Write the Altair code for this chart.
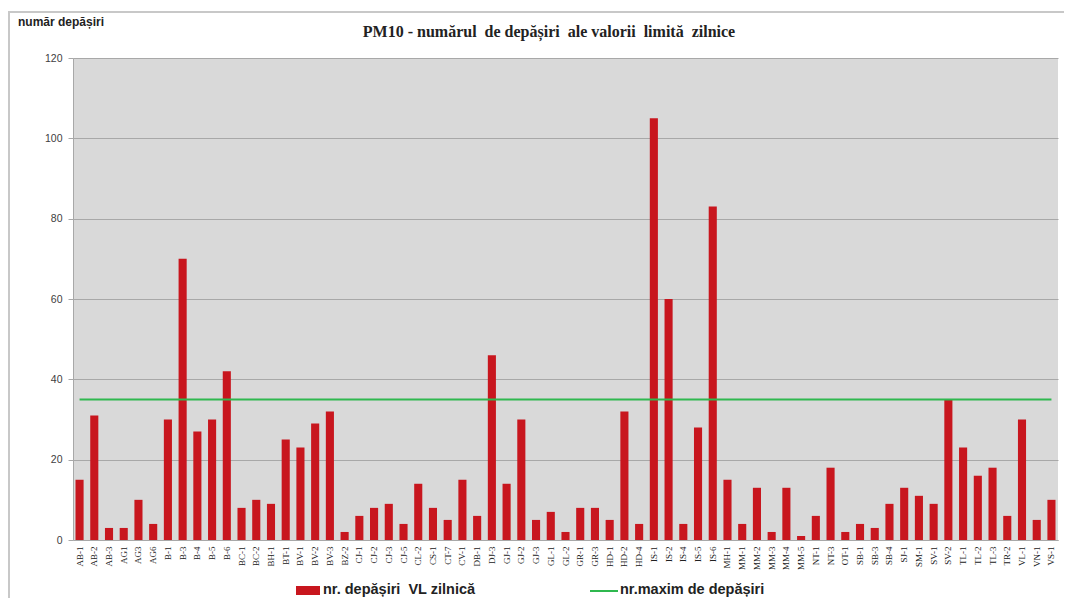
import altair as alt
import pandas as pd

stations = ["AB-1", "AB-2", "AB-3", "AG1", "AG3", "AG6", "B-1", "B-3", "B-4", "B-5", "B-6",
            "BC-1", "BC-2", "BH-1", "BT-1", "BV-1", "BV-2", "BV-3", "BZ-2", "CJ-1", "CJ-2",
            "CJ-3", "CJ-5", "CL-2", "CS-1", "CT-7", "CV-1", "DB-1", "DJ-3", "GJ-1", "GJ-2",
            "GJ-3", "GL-1", "GL-2", "GR-1", "GR-3", "HD-1", "HD-2", "HD-4", "IS-1", "IS-2",
            "IS-4", "IS-5", "IS-6", "MH-1", "MM-1", "MM-2", "MM-3", "MM-4", "MM-5", "NT-1",
            "NT-3", "OT-1", "SB-1", "SB-3", "SB-4", "SJ-1", "SM-1", "SV-1", "SV-2", "TL-1",
            "TL-2", "TL-3", "TR-2", "VL-1", "VN-1", "VS-1"]
exceedances = [15, 31, 3, 3, 10, 4, 30, 70, 27, 30, 42,
               8, 10, 9, 25, 23, 29, 32, 2, 6, 8,
               9, 4, 14, 8, 5, 15, 6, 46, 14, 30,
               5, 7, 2, 8, 8, 5, 32, 4, 105, 60,
               4, 28, 83, 15, 4, 13, 2, 13, 1, 6,
               18, 2, 4, 3, 9, 13, 11, 9, 35, 23,
               16, 18, 6, 30, 5, 10]
LIMIT = 35
y_ticks = [0, 20, 40, 60, 80, 100, 120]

NB = "\u00a0"
TITLE = f"PM10 - numărul {NB}de depășiri {NB}ale valorii {NB}limită {NB}zilnice"
Y_TITLE = "număr depășiri"
LEG_BAR = f"nr. depășiri {NB}VL zilnică"
LEG_LINE = "nr.maxim de depășiri"

RED = "#c8161e"
GREEN = "#2fb84f"

df = pd.DataFrame({"station": stations, "value": exceedances, "limit": [LIMIT] * len(stations)})
one = pd.DataFrame({"a": [0]})

W, H = 985, 482

x_enc = alt.X("station:N", sort=None,
              scale=alt.Scale(paddingInner=0.45, paddingOuter=0.17),
              axis=alt.Axis(title=None, labelAngle=270, labelFont="Liberation Serif",
                            labelFontSize=9, labelColor="#202020", ticks=False,
                            domainColor="#a8a8a8", labelPadding=6, grid=False))
y_scale = alt.Scale(domain=[0, 120], nice=False)
y_axis = alt.Axis(title=None, values=y_ticks, grid=True, gridColor="#a8a8a8",
                  domainColor="#a8a8a8", tickColor="#a8a8a8", tickSize=5,
                  labelFont="Liberation Sans", labelFontSize=10.5, labelColor="#404040",
                  labelPadding=6)

base = alt.Chart(df)
bars = base.mark_bar(color=RED).encode(
    x=x_enc, y=alt.Y("value:Q", scale=y_scale, axis=y_axis))
line = base.mark_line(color=GREEN, strokeWidth=2).encode(
    x=alt.X("station:N", sort=None), y=alt.Y("limit:Q"))

deco = alt.Chart(one)
border_left = deco.mark_rule(color="#c8c8c8", strokeWidth=2).encode(
    x=alt.value(-64), y=alt.value(-46), y2=alt.value(545))
border_top = deco.mark_rule(color="#c8c8c8", strokeWidth=2).encode(
    x=alt.value(-65), x2=alt.value(1000), y=alt.value(-46))
title = deco.mark_text(text=TITLE, font="Liberation Serif", fontSize=16, fontWeight="bold",
                       color="#222222", align="center", baseline="middle").encode(
    x=alt.value(476), y=alt.value(-26))
ytitle = deco.mark_text(text=Y_TITLE, font="Liberation Sans", fontSize=12, fontWeight="bold",
                        color="#222222", align="left", baseline="middle").encode(
    x=alt.value(-55), y=alt.value(-36))
leg_rect = deco.mark_rect(color=RED).encode(
    x=alt.value(223), x2=alt.value(247), y=alt.value(528), y2=alt.value(537))
leg_text1 = deco.mark_text(text=LEG_BAR, font="Liberation Sans", fontSize=14.5, fontWeight="bold",
                           color="#222222", align="left", baseline="middle").encode(
    x=alt.value(250), y=alt.value(532))
leg_line = deco.mark_rule(color=GREEN, strokeWidth=2).encode(
    x=alt.value(517), x2=alt.value(545), y=alt.value(533))
leg_text2 = deco.mark_text(text=LEG_LINE, font="Liberation Sans", fontSize=14.5, fontWeight="bold",
                           color="#222222", align="left", baseline="middle").encode(
    x=alt.value(547), y=alt.value(532))

chart = alt.layer(bars, line, border_left, border_top, title, ytitle,
                  leg_rect, leg_text1, leg_line, leg_text2).properties(
    width=W, height=H,
    autosize=alt.AutoSizeParams(type="none"),
    padding={"left": 65, "top": 50, "right": 6, "bottom": 58},
    background="white",
).configure_view(fill="#d9d9d9", stroke=None)

chart.save("out.html", embed_options={"renderer": "svg", "actions": False})
